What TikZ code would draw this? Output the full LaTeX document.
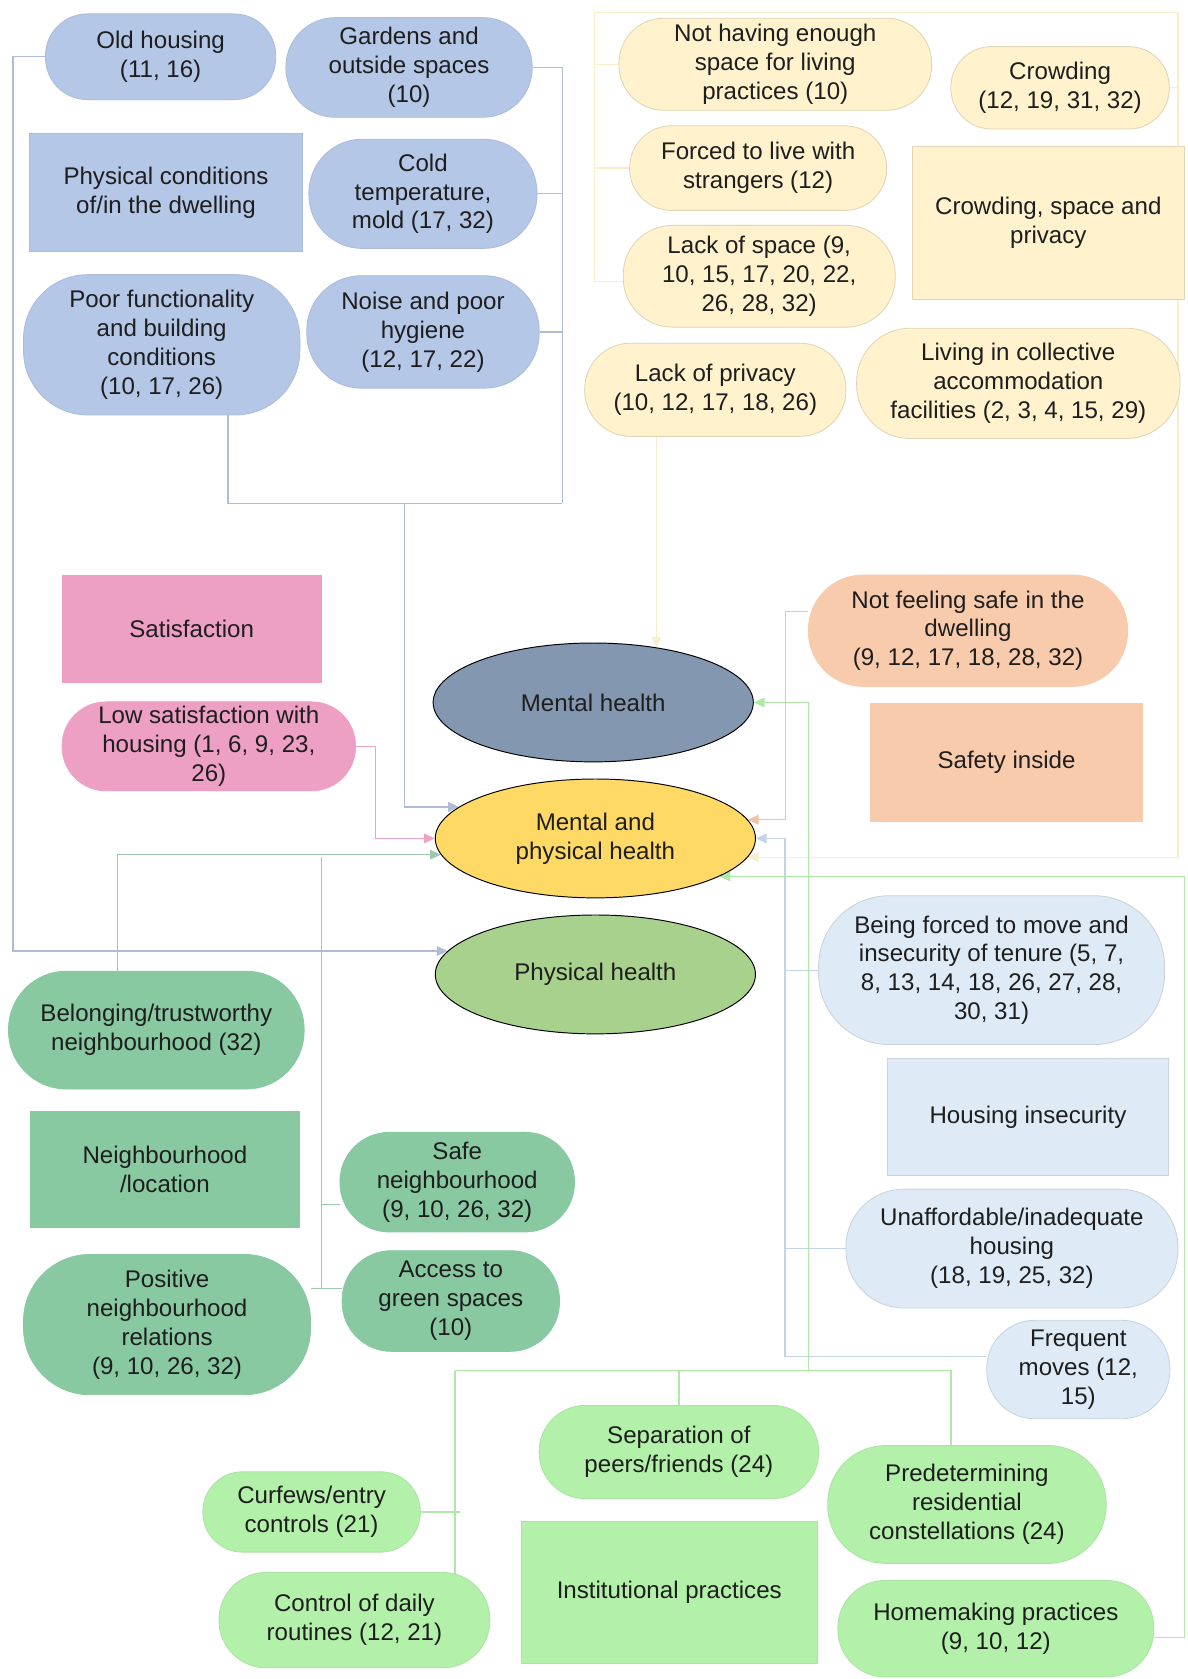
\documentclass[tikz,border=0pt]{standalone}
\usepackage{fontspec}
\setmainfont{Liberation Sans}
\usetikzlibrary{shapes.geometric,arrows.meta,backgrounds}

\definecolor{bluefill}{HTML}{B4C7E7}
\definecolor{yelfill}{HTML}{FFF2CC}
\definecolor{pinkfill}{HTML}{EE9FC4}
\definecolor{orfill}{HTML}{F8CBAD}
\definecolor{lbfill}{HTML}{DEEBF7}
\definecolor{ngfill}{HTML}{88C9A1}
\definecolor{igfill}{HTML}{B3F0AA}
\definecolor{mhfill}{HTML}{8497B0}
\definecolor{mpfill}{HTML}{FFD966}
\definecolor{phfill}{HTML}{A9D18E}
\definecolor{txt}{HTML}{1E1E1E}
\definecolor{bluel}{HTML}{AEBCDA}
\definecolor{yell}{HTML}{F9EDCB}
\definecolor{pinkl}{HTML}{F0A2C4}
\definecolor{orl}{HTML}{F2C0A2}
\definecolor{lbl}{HTML}{C3D3E9}
\definecolor{ngl}{HTML}{9CC8AE}
\definecolor{igl}{HTML}{AEEAA6}

\tikzset{
  base/.style={align=center, inner sep=0pt, font=\fontsize{22.5}{27}\selectfont,
    text=txt, line width=0.8pt, rectangle},
  sz/.style 2 args={minimum width=#1pt, minimum height=#2pt},
  rc/.style={rounded corners=#1pt},
  bluen/.style={base, fill=bluefill, draw=bluefill!95!black},
  yeln/.style={base, fill=yelfill, draw=yelfill!88!black},
  pinkn/.style={base, fill=pinkfill, draw=pinkfill},
  orn/.style={base, fill=orfill, draw=orfill},
  lbn/.style={base, fill=lbfill, draw=lbfill!90!black},
  ngn/.style={base, fill=ngfill, draw=ngfill},
  ign/.style={base, fill=igfill, draw=igfill!95!black},
  oval/.style={base, ellipse, draw=black, line width=0.9pt, minimum width=299pt, minimum height=111pt},
  conn/.style={line width=1.2pt},
  tip/.style={-{Triangle[length=10pt,width=9pt]}},
  bline/.style={conn, draw=bluel},
  yline/.style={conn, draw=yell},
  pline/.style={conn, draw=pinkl},
  oline/.style={conn, draw=orl},
  lbline/.style={conn, draw=lbl},
  ngline/.style={conn, draw=ngl},
  igline/.style={conn, draw=igl},
}

\begin{document}
\begin{tikzpicture}[x=1pt, y=-1pt]
\useasboundingbox (0,0) rectangle (1109,1568);

% ---------- Physical conditions (blue) ----------
\node[bluen, sz={215}{80}, rc=39] (old) at (150,53) {Old housing\\(11, 16)};
\node[bluen, sz={230}{93}, rc=46] (gardens) at (382,63) {Gardens and\\outside spaces\\(10)};
\node[bluen, sz={255}{110}] (physcond) at (155,180) {Physical conditions\\of/in the dwelling};
\node[bluen, sz={213}{102}, rc=50] (cold) at (395,181) {Cold\\temperature,\\mold (17, 32)};
\node[bluen, sz={258}{131}, rc=60] (poor) at (151,322) {Poor functionality\\and building\\conditions\\(10, 17, 26)};
\node[bluen, sz={217}{105}, rc=51] (noise) at (395,310) {Noise and poor\\hygiene\\(12, 17, 22)};

% ---------- Crowding (yellow) ----------
\node[yeln, sz={292}{86}, rc=42] (notenough) at (724,60) {Not having enough\\space for living\\practices (10)};
\node[yeln, sz={204}{77}, rc=38] (crowd) at (990,82) {Crowding\\(12, 19, 31, 32)};
\node[yeln, sz={240}{79}, rc=39] (forced) at (708,157) {Forced to live with\\strangers (12)};
\node[yeln, sz={254}{143}] (csp) at (979,208) {Crowding, space and\\privacy};
\node[yeln, sz={254}{95}, rc=46] (lackspace) at (709,258) {Lack of space (9,\\10, 15, 17, 20, 22,\\26, 28, 32)};
\node[yeln, sz={244}{87}, rc=43] (lackpriv) at (668,364) {Lack of privacy\\(10, 12, 17, 18, 26)};
\node[yeln, sz={302}{103}, rc=50] (living) at (951,358) {Living in collective\\accommodation\\facilities (2, 3, 4, 15, 29)};

% ---------- Satisfaction (pink) ----------
\node[pinkn, sz={242}{100}] (satis) at (179,587) {Satisfaction};
\node[pinkn, sz={274}{83}, rc=41] (lowsat) at (195,697) {Low satisfaction with\\housing (1, 6, 9, 23,\\26)};

% ---------- Health outcomes ----------
\node[oval, fill=mhfill] (mh) at (554,656) {Mental health};
\node[oval, fill=mpfill] (mp) at (556,783) {Mental and\\physical health};
\node[oval, fill=phfill] (ph) at (556,910) {Physical health};

% ---------- Safety inside (orange) ----------
\node[orn, sz={298}{104}, rc=51] (notsafe) at (904,589) {Not feeling safe in the\\dwelling\\(9, 12, 17, 18, 28, 32)};
\node[orn, sz={254}{110}] (safety) at (940,712) {Safety inside};

% ---------- Housing insecurity (light blue) ----------
\node[lbn, sz={323}{139}, rc=66] (being) at (926,906) {Being forced to move and\\insecurity of tenure (5, 7,\\8, 13, 14, 18, 26, 27, 28,\\30, 31)};
\node[lbn, sz={263}{109}] (hi) at (960,1043) {Housing insecurity};
\node[lbn, sz={310}{111}, rc=54] (unaff) at (945,1166) {Unaffordable/inadequate\\housing\\(18, 19, 25, 32)};
\node[lbn, sz={171}{92}, rc=45] (freq) at (1007,1279) {Frequent\\moves (12,\\15)};

% ---------- Neighbourhood (green) ----------
\node[ngn, sz={276}{110}, rc=54] (belong) at (146,962) {Belonging/trustworthy\\neighbourhood (32)};
\node[ngn, sz={252}{109}] (nloc) at (154,1092) {Neighbourhood\\/location};
\node[ngn, sz={219}{93}, rc=46] (safe) at (427,1104) {Safe\\neighbourhood\\(9, 10, 26, 32)};
\node[ngn, sz={268}{131}, rc=62] (positive) at (156,1237) {Positive\\neighbourhood\\relations\\(9, 10, 26, 32)};
\node[ngn, sz={203}{94}, rc=46] (access) at (421,1215) {Access to\\green spaces\\(10)};

% ---------- Institutional practices (bright green) ----------
\node[ign, sz={261}{87}, rc=43] (sep) at (634,1356) {Separation of\\peers/friends (24)};
\node[ign, sz={203}{75}, rc=37] (curf) at (291,1412) {Curfews/entry\\controls (21)};
\node[ign, sz={260}{110}, rc=54] (pred) at (903,1405) {Predetermining\\residential\\constellations (24)};
\node[ign, sz={276}{133}] (inst) at (625,1487) {Institutional practices};
\node[ign, sz={253}{89}, rc=44] (ctrl) at (331,1513) {Control of daily\\routines (12, 21)};
\node[ign, sz={295}{90}, rc=44] (home) at (930,1521) {Homemaking practices\\(9, 10, 12)};

% ---------- Connectors ----------
\begin{scope}[on background layer]
\fill[white] (0,0) rectangle (1109,1568);

% blue
\coordinate (bR) at (525,470);
\coordinate (bD) at (378,470);
\draw[bline] (gardens.east) -| (bR);
\draw[bline] (cold.east) -- (cold.east -| bR);
\draw[bline] (noise.east) -- (noise.east -| bR);
\draw[bline] ([xshift=62pt]poor.south) |- (bR);
\draw[bline,tip] (bD) |- (mp.167.8);
\draw[bline,tip] (old.west) -- ++(-30,0) |- (ph.171.4);

% yellow
\coordinate (yT) at (555,12);
\coordinate (yR) at (1100,12);
\draw[yline,tip] ([yshift=-5pt]lackspace.west) -| (yT) -- (yR) |- (mp.353.2);
\draw[yline] (notenough.west) -- (notenough.west -| yT);
\draw[yline] (forced.west) -- (forced.west -| yT);
\draw[yline] (crowd.east) -- (crowd.east -| yR);
\draw[yline,tip] ([xshift=-55pt]lackpriv.south) -- ([xshift=-55pt]lackpriv.south |- mh.40.8);

% pink
\draw[pline,tip] (lowsat.east) -- ++(18,0) |- (mp.west);

% orange
\draw[oline,tip] ([yshift=18pt]notsafe.west) -- ++(-21,0) |- (mp.7.7);

% light blue
\coordinate (hj) at (733,783);
\draw[lbline,tip] ([yshift=12pt]freq.west) -| (hj) -- (mp.east);
\draw[lbline] (being.west) -- (being.west -| hj);
\draw[lbline] (unaff.west) -- (unaff.west -| hj);

% neighbourhood green
\coordinate (nj) at (300,800);
\coordinate (nb) at (300,1203);
\draw[ngline,tip] ([xshift=-36pt]belong.north) |- (mp.186.8);
\draw[ngline] ([yshift=-21pt]safe.west) -| (nj);
\draw[ngline] (nj) -- (nb);
\draw[ngline] ([yshift=12pt]access.west) -- (positive.east |- nb);

% institutional green
\coordinate (ij) at (755,1280);
\coordinate (il) at (425,1280);
\draw[igline,tip] (ij) |- (mh.east);
\draw[igline] ([xshift=-15pt]pred.north) |- (il);
\draw[igline] (sep.north) -- (sep.north |- il);
\draw[igline] (il) -- (il |- ctrl.center);
\draw[igline] (curf.east) -- ++(37,0);
\draw[igline,tip] ([yshift=-8pt]home.east) -- ++(28,0) |- (mp.343.2);
\end{scope}
\end{tikzpicture}
\end{document}
